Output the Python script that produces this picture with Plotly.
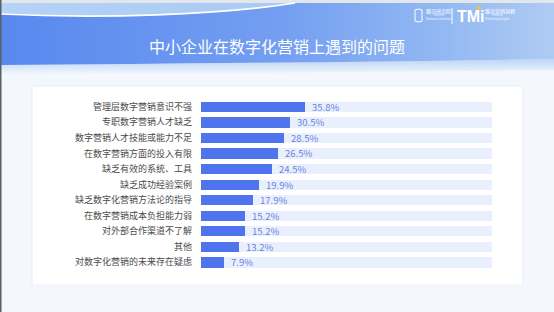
import base64
import plotly.graph_objects as go

W, H = 554, 312

title = "中小企业在数字化营销上遇到的问题"
categories = [
    "管理层数字营销意识不强",
    "专职数字营销人才缺乏",
    "数字营销人才技能或能力不足",
    "在数字营销方面的投入有限",
    "缺乏有效的系统、工具",
    "缺乏成功经验案例",
    "缺乏数字化营销方法论的指导",
    "在数字营销成本负担能力弱",
    "对外部合作渠道不了解",
    "其他",
    "对数字化营销的未来存在疑虑",
]
values = [35.8, 30.5, 28.5, 26.5, 24.5, 19.9, 17.9, 15.2, 15.2, 13.2, 7.9]
track_max = 100
value_labels = [f"{v:.1f}%" for v in values]


def px(x):
    return x / W


def py(y):
    return 1 - y / H


FONT = "Noto Sans CJK SC, Noto Sans, sans-serif"

svg = f'''<svg xmlns="http://www.w3.org/2000/svg" width="{W}" height="80" viewBox="0 0 {W} 80">
<defs>
<linearGradient id="g" x1="0" y1="0" x2="1" y2="0">
<stop offset="0" stop-color="#5888ef"/>
<stop offset="0.5" stop-color="#739ef1"/>
<stop offset="0.8" stop-color="#93b8f2"/>
<stop offset="1" stop-color="#aecbf3"/>
</linearGradient>
<linearGradient id="t" x1="0" y1="0" x2="1" y2="0">
<stop offset="0" stop-color="#b5d3f7"/>
<stop offset="1" stop-color="#a9c9f4"/>
</linearGradient>
<linearGradient id="b" x1="0" y1="0" x2="0" y2="1">
<stop offset="0" stop-color="#bcd5f8"/>
<stop offset="1" stop-color="#f4f8fd"/>
</linearGradient>
</defs>
<rect x="0" y="0" width="{W}" height="3" fill="#e3e6ea"/>
<path d="M0,65 Q300,63 {W},59 V70 Q300,73 0,75 Z" fill="url(#b)"/>
<path d="M0,3 H{W} V59 Q300,63 0,65 Z" fill="url(#g)"/>
<path d="M0,3 H295 C220,15 100,19 0,14 Z" fill="url(#t)"/>
<path d="M0,14 C100,19 220,15 295,3" stroke="#ffffff" stroke-width="1.6" fill="none"/>
<path d="M415,10 q4,-2 7,0 v11 q-3,2 -7,0 z" stroke="#ffffff" stroke-width="1" fill="none"/>
</svg>'''
svg_uri = "data:image/svg+xml;base64," + base64.b64encode(svg.encode()).decode()

fig = go.Figure()

fig.add_trace(go.Bar(
    x=[track_max] * len(categories), y=categories, orientation="h",
    marker=dict(color="#eaeffd", line=dict(width=0)),
    width=0.66, hoverinfo="skip", showlegend=False,
))
fig.add_trace(go.Bar(
    x=values, y=categories, orientation="h",
    marker=dict(color="#4f74ee", line=dict(width=0)),
    width=0.66, showlegend=False,
))

annotations = []
for c, v, t in zip(categories, values, value_labels):
    annotations.append(dict(
        x=v, y=c, xref="x", yref="y", text=t, showarrow=False,
        xanchor="left", yanchor="middle", xshift=5,
        font=dict(size=9.5, color="#6685e2", family=FONT),
    ))

annotations += [
    dict(x=px(277), y=py(46), xref="paper", yref="paper", text=title,
         showarrow=False, xanchor="center", yanchor="middle",
         font=dict(size=16, color="#ffffff", family=FONT)),
    dict(x=px(424), y=py(11), xref="paper", yref="paper", text="腾讯研究院",
         showarrow=False, xanchor="left", yanchor="middle",
         font=dict(size=5, color="#ffffff", family=FONT)),
    dict(x=px(424), y=py(17), xref="paper", yref="paper",
         text="Tencent<br>Research Institute",
         showarrow=False, xanchor="left", yanchor="middle",
         font=dict(size=3, color="#eef4ff", family=FONT)),
    dict(x=px(455), y=py(16), xref="paper", yref="paper", text="<b>TMi</b>",
         showarrow=False, xanchor="left", yanchor="middle",
         font=dict(size=16, color="#ffffff", family="Liberation Sans, Arial")),
    dict(x=px(483), y=py(11), xref="paper", yref="paper", text="腾讯营销洞察",
         showarrow=False, xanchor="left", yanchor="middle",
         font=dict(size=5, color="#ffffff", family=FONT)),
    dict(x=px(483), y=py(17), xref="paper", yref="paper",
         text="Tencent<br>Marketing Insight",
         showarrow=False, xanchor="left", yanchor="middle",
         font=dict(size=3, color="#eef4ff", family=FONT)),
]

shapes = [
    dict(type="rect", xref="paper", yref="paper",
         x0=px(32), x1=px(523), y0=py(285), y1=py(86),
         fillcolor="#ffffff", line=dict(color="#e9eff6", width=1), layer="below"),
    dict(type="rect", xref="paper", yref="paper",
         x0=0, x1=px(1.5), y0=0, y1=1,
         fillcolor="#56625f", line=dict(width=0), layer="above"),
    dict(type="line", xref="paper", yref="paper",
         x0=px(452), x1=px(452), y0=py(8), y1=py(24),
         line=dict(color="#ffffff", width=1)),
    dict(type="circle", xref="paper", yref="paper",
         x0=px(477), x1=px(481), y0=py(10), y1=py(6),
         fillcolor="#f3c341", line=dict(width=0)),
]

fig.update_layout(
    width=W, height=H,
    margin=dict(l=0, r=0, t=0, b=0),
    paper_bgcolor="#f4f8fd",
    plot_bgcolor="rgba(0,0,0,0)",
    barmode="overlay",
    bargap=0,
    showlegend=False,
    xaxis=dict(range=[0, track_max], domain=[px(201), px(492)],
               visible=False, fixedrange=True),
    yaxis=dict(domain=[py(271.2), py(97.8)], autorange="reversed",
               showgrid=False, zeroline=False, showline=False, ticks="",
               ticklabelstandoff=8,
               tickfont=dict(size=9, color="#4a4a4a", family=FONT),
               fixedrange=True),
    images=[dict(source=svg_uri, xref="paper", yref="paper",
                 x=0, y=1, sizex=1, sizey=80 / H,
                 xanchor="left", yanchor="top", sizing="stretch",
                 layer="below")],
    shapes=shapes,
    annotations=annotations,
)

fig.write_html("out.html")
